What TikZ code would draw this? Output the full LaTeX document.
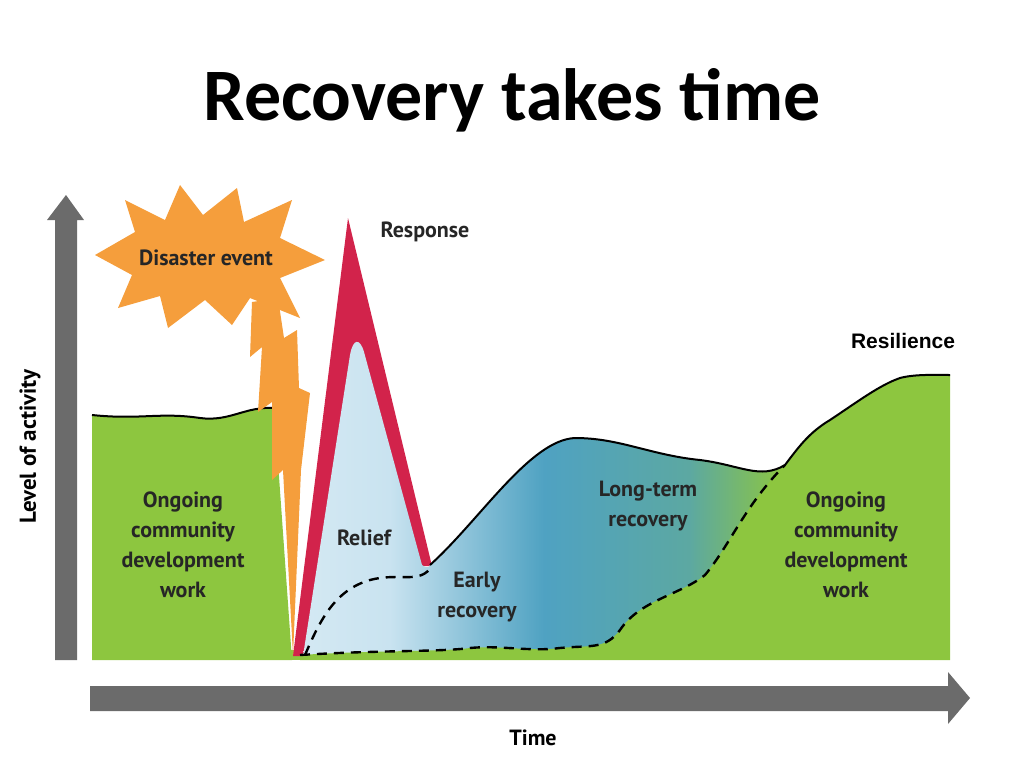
\documentclass[tikz,border=0pt]{standalone}
\usepackage{fontspec}
\setmainfont{PT Sans}
\newfontfamily\titlefont{Carlito}
\newfontfamily\arialf{Liberation Sans}
\definecolor{gr}{HTML}{8DC63F}
\definecolor{orng}{HTML}{F59E3C}
\definecolor{rd}{HTML}{D2234B}
\definecolor{gy}{HTML}{6B6B6B}
\definecolor{lb}{HTML}{C9E3F0}
\definecolor{mb}{HTML}{4FA2C2}
\definecolor{tb}{HTML}{5CA8A2}
\pgfdeclarehorizontalshading{recov}{100bp}{color(0bp)=(lb!80!white); color(25bp)=(lb!80!white); color(34bp)=(lb); color(50bp)=(mb); color(65bp)=(tb); color(75bp)=(gr); color(100bp)=(gr)}
\tikzset{lbl/.style={font=\bfseries\fontsize{22}{30}\selectfont, align=center, text=black!85},
 outline/.style={line width=2pt, black},
 dsh/.style={line width=2.4pt, black, dash pattern=on 10pt off 7pt}}
\begin{document}
\begin{tikzpicture}[x=1pt,y=-1pt]
\useasboundingbox (0,0) rectangle (1024,768);
\node (title) at (512,100) {\titlefont\bfseries\fontsize{74}{80}\selectfont Recovery takes time};
% axes
\fill[gy] (55,660) -- (55,220) -- (47,220) -- (66,195) -- (84,220) -- (77,220) -- (77,660) -- cycle;
\fill[gy] (90,686) -- (948,686) -- (948,672) -- (970,698) -- (948,724) -- (948,711) -- (90,711) -- cycle;
\node[rotate=90, font=\bfseries\fontsize{23}{26}\selectfont] (yl) at (30,447) {Level of activity};
\node[font=\bfseries\fontsize{22}{26}\selectfont] (xl) at (533,738) {Time};
% left green
\fill[gr] (92,660) -- (92,415) .. controls (140,420) and (160,412) .. (200,418) .. controls (230,422) and (245,406) .. (275,408) -- (275,420) -- (292,660) -- cycle;
\draw[outline] (92,415) .. controls (140,420) and (160,412) .. (200,418) .. controls (230,422) and (245,406) .. (275,408);
% baseline green
\fill[gr] (290,650) rectangle (950,660);
% response spike
\fill[rd] (293,656) -- (348,218) -- (432,566) -- (420,566) -- (302,656) -- cycle;
% recovery region including relief
\path[shading=recov] (303,656) -- (350,355) .. controls (353,338) and (360,338) .. (364,352) -- (422,565) .. controls (426,568) and (429,568) .. (430,565) .. controls (480,520) and (530,440) .. (575,438) .. controls (620,438) and (650,455) .. (700,460) .. controls (740,465) and (760,480) .. (785,465) -- (785,656) -- cycle;
% right green
\fill[gr] (300,655) .. controls (380,650) and (440,652) .. (470,648) .. controls (500,645) and (530,652) .. (560,648) .. controls (590,645) and (605,650) .. (620,630) .. controls (640,600) and (680,595) .. (705,575) .. controls (730,545) and (745,505) .. (785,465)
 .. controls (800,445) and (810,432) .. (830,420) .. controls (860,400) and (880,385) .. (900,378) .. controls (915,374) and (935,375) .. (950,375) -- (950,660) -- (300,660) -- cycle;
\draw[outline] (430,565) .. controls (480,520) and (530,440) .. (575,438) .. controls (620,438) and (650,455) .. (700,460) .. controls (740,465) and (760,480) .. (785,465)
 .. controls (800,445) and (810,432) .. (830,420) .. controls (860,400) and (880,385) .. (900,378) .. controls (915,374) and (935,375) .. (950,375);
\draw[dsh] (300,655) .. controls (380,650) and (440,652) .. (470,648) .. controls (500,645) and (530,652) .. (560,648) .. controls (590,645) and (605,650) .. (620,630) .. controls (640,600) and (680,595) .. (705,575) .. controls (730,545) and (745,505) .. (785,465);
\draw[dsh] (305,655) .. controls (320,620) and (335,590) .. (370,580) .. controls (400,572) and (420,585) .. (432,566);
% lightning
\fill[orng] (252,302) -- (278,298) -- (284,338) -- (297,330) -- (299,388) -- (310,393) -- (301,470) -- (293,655) -- (283,470) -- (272,480) -- (272,402) -- (258,412) -- (262,347) -- (250,357) -- cycle;
% starburst
\fill[orng] plot[smooth cycle, tension=0] coordinates {
(95,255) (135,232) (125,200) (165,220) (180,185) (203,215) (237,188) (244,222) (292,200) (280,238) (325,260) (280,278) (300,318) (250,298) (232,325) (205,300) (168,328) (160,296) (118,308) (132,275)};
\node[lbl] (dis) at (206,258) {Disaster event};
% labels
\node[lbl] (resp) at (425,232) {Response};
\node[lbl] (rel) at (364,538) {Relief};
\node[lbl] (early) at (477,597) {Early\\recovery};
\node[lbl] (long) at (648,506) {Long-term\\recovery};
\node[lbl] (ocl) at (183,545) {Ongoing\\community\\development\\work};
\node[lbl] (ocr) at (846,545) {Ongoing\\community\\development\\work};
\node[font=\arialf\bfseries\fontsize{21}{24}\selectfont] (res) at (903,341) {Resilience};
\end{tikzpicture}
\end{document}
